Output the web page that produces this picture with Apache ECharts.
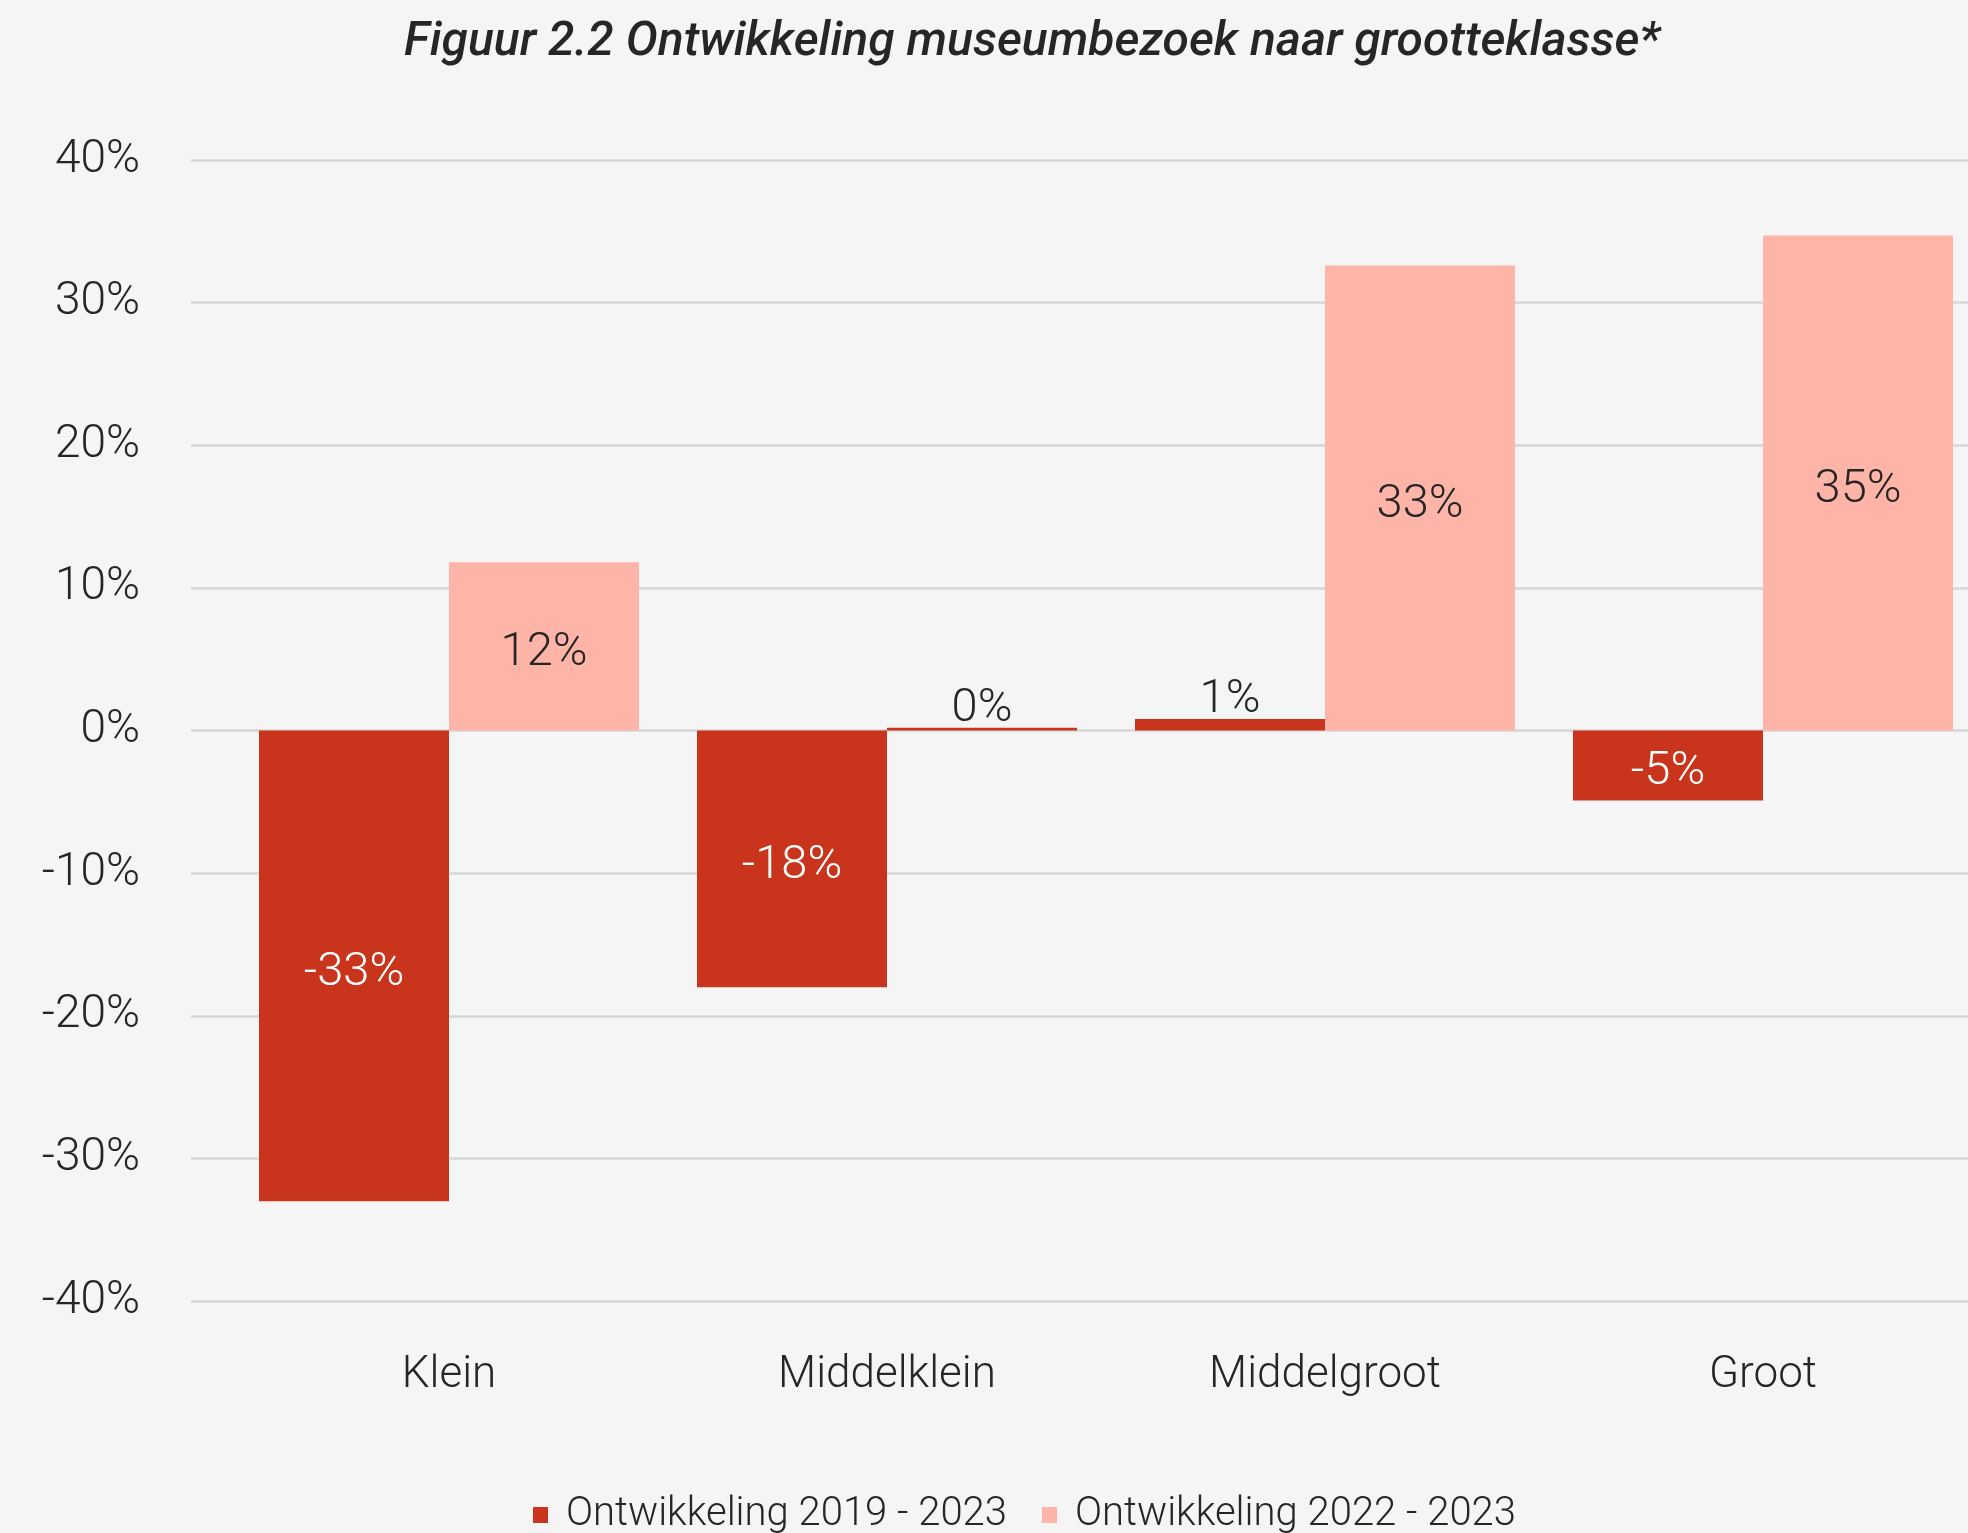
<!DOCTYPE html>
<html>
<head>
<meta charset="utf-8">
<script src="https://cdn.jsdelivr.net/npm/echarts@6/dist/echarts.min.js"></script>
<style>
html,body{margin:0;padding:0;background:#f5f5f5;}
#chart{width:1968px;height:1533px;}
</style>
</head>
<body>
<div id="chart"></div>
<script>
const categories = ['Klein', 'Middelklein', 'Middelgroot', 'Groot'];
const seriesNames = ['Ontwikkeling 2019 - 2023', 'Ontwikkeling 2022 - 2023'];
const values2019_2023 = [-33, -18, 0.8, -4.9];
const values2022_2023 = [11.8, 0.2, 32.6, 34.7];
const yTicks = [-40, -30, -20, -10, 0, 10, 20, 30, 40];

const DARK = '#c9351c';
const PINK = '#ffb4a8';
const TEXT = '#262626';
const FONT = 'Roboto';

function buildData(vals, insideColor, isPink) {
  return vals.map(function (v) {
    const small = Math.abs(v) < 2;
    const item = {
      value: v,
      label: {
        position: small ? 'top' : 'inside',
        color: small ? TEXT : insideColor,
        distance: 2
      }
    };
    if (isPink && small) item.itemStyle = { color: DARK };
    return item;
  });
}

const chart = echarts.init(document.getElementById('chart'));
const labelCommon = {
  show: true,
  fontFamily: FONT,
  fontWeight: 300,
  fontSize: 47,
  offset: [0, 7],
  formatter: function (p) { return Math.round(p.value) + '%'; }
};

chart.setOption({
  backgroundColor: '#f5f5f5',
  animation: false,
  title: {
    text: 'Figuur 2.2 Ontwikkeling museumbezoek naar grootteklasse*',
    left: 399,
    top: 14,
    textStyle: {
      fontFamily: FONT,
      fontStyle: 'italic',
      fontWeight: 500,
      fontSize: 48,
      color: TEXT
    }
  },
  legend: {
    data: seriesNames,
    left: 528,
    top: 1490,
    icon: 'rect',
    itemWidth: 15,
    itemHeight: 16,
    itemGap: 35,
    textStyle: {
      fontFamily: FONT,
      fontWeight: 300,
      fontSize: 40,
      color: TEXT,
      padding: [0, 0, 0, 13]
    }
  },
  grid: [
    { left: 230, top: 160, width: 1752, height: 1141, outerBoundsMode: 'none' },
    { left: 191, top: 160, width: 1800, height: 1141, outerBoundsMode: 'none' }
  ],
  xAxis: [
    {
      type: 'category',
      gridIndex: 0,
      data: categories,
      axisLine: { show: false },
      axisTick: { show: false },
      axisLabel: {
        margin: 53,
        fontFamily: FONT,
        fontWeight: 300,
        fontSize: 44,
        color: TEXT
      }
    },
    {
      type: 'value',
      gridIndex: 1,
      show: false
    }
  ],
  yAxis: [
    {
      type: 'value',
      gridIndex: 0,
      min: yTicks[0],
      max: yTicks[yTicks.length - 1],
      interval: 10,
      axisLabel: { show: false },
      axisLine: { show: false },
      axisTick: { show: false },
      splitLine: { show: false }
    },
    {
      type: 'value',
      gridIndex: 1,
      min: yTicks[0],
      max: yTicks[yTicks.length - 1],
      interval: 10,
      axisLine: { show: false },
      axisTick: { show: false },
      axisLabel: {
        margin: 51,
        fontFamily: FONT,
        fontWeight: 300,
        fontSize: 46,
        color: TEXT,
        formatter: function (v) { return v + '%'; }
      },
      splitLine: { show: true, lineStyle: { color: '#d6d6d6', width: 2.5 } }
    }
  ],
  series: [
    {
      name: seriesNames[0],
      type: 'bar',
      xAxisIndex: 0,
      yAxisIndex: 0,
      barWidth: 190,
      barGap: '0%',
      itemStyle: { color: DARK },
      label: labelCommon,
      data: buildData(values2019_2023, '#ffffff', false),
      z: 3
    },
    {
      name: seriesNames[1],
      type: 'bar',
      xAxisIndex: 0,
      yAxisIndex: 0,
      barWidth: 190,
      barGap: '0%',
      itemStyle: { color: PINK },
      label: labelCommon,
      data: buildData(values2022_2023, TEXT, true),
      z: 3
    }
  ]
});
</script>
</body>
</html>
